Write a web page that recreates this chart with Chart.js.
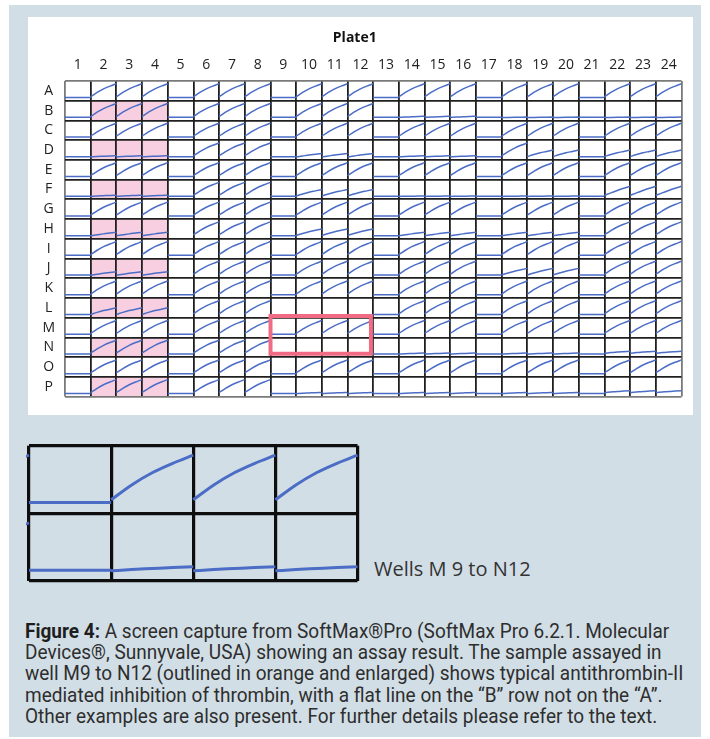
<!DOCTYPE html>
<html>
<head>
<meta charset="utf-8">
<script src="https://cdn.jsdelivr.net/npm/chart.js@4/dist/chart.umd.min.js"></script>
<style>
  html, body { margin: 0; padding: 0; background: #ffffff; }
  body { width: 710px; height: 739px; position: relative; overflow: hidden; font-family: "Open Sans", sans-serif; }
  #figure { position: absolute; left: 9px; top: 5px; width: 692px; height: 732px; background: #d2dee6; }
  #platePanel { position: absolute; left: 28px; top: 17px; width: 665px; height: 398px; background: #ffffff; }
  #plate { position: absolute; left: 0; top: 0; }
  #zoomWrap { position: absolute; left: 19px; top: 436px; width: 350px; height: 155px; }
  #zoomChart { filter: blur(0.4px); }
  #zoomLabel { position: absolute; left: 374px; top: 559px; font: 20px/20px "Open Sans", sans-serif; color: #333; white-space: nowrap; }
  #caption { position: absolute; left: 25px; top: 621px; font-family: Roboto, "Liberation Sans", sans-serif;
             font-size: 19.5px; line-height: 21.2px; color: #2e2e2e; white-space: nowrap; transform-origin: 0 0; }
  #caption b { color: #1e1e1e; font-weight: bold; }
</style>
</head>
<body>
<div id="figure"></div>
<div id="platePanel"><canvas id="plate" width="665" height="398"></canvas></div>
<div id="zoomWrap"><canvas id="zoomChart" width="350" height="155"></canvas></div>
<div id="zoomLabel">Wells M 9 to N12</div>
<div id="caption"><b>Figure 4:</b> A screen capture from SoftMax®Pro (SoftMax Pro 6.2.1. Molecular<br>Devices®, Sunnyvale, USA) showing an assay result. The sample assayed in<br>well M9 to N12 (outlined in orange and enlarged) shows typical antithrombin-II<br>mediated inhibition of thrombin, with a flat line on the “B” row not on the “A”.<br>Other examples are also present. For further details please refer to the text.</div>

<script>
// Plate geometry labels
const ROW_LABELS = ['A','B','C','D','E','F','G','H','I','J','K','L','M','N','O','P'];
const COL_LABELS = ['1','2','3','4','5','6','7','8','9','10','11','12','13','14','15','16','17','18','19','20','21','22','23','24'];

// Read times across the kinetic run (fraction of the run shown in each well)
const READ_TIMES = [0, 0.25, 0.5, 0.75, 1];

// Kinetic traces, signal as a fraction of the well height at each read
const TRACE_BLANK    = [0.16, 0.16, 0.16, 0.16, 0.16];
const TRACE_FLAT     = [0.15, 0.155, 0.16, 0.165, 0.17];
const TRACE_TRACE    = [0.15, 0.17, 0.185, 0.20, 0.21];
const TRACE_LOW      = [0.20, 0.23, 0.26, 0.28, 0.30];
const TRACE_SLIGHT   = [0.15, 0.20, 0.25, 0.29, 0.33];
const TRACE_PARTIAL  = [0.17, 0.27, 0.36, 0.43, 0.50];
const TRACE_STRONG   = [0.20, 0.33, 0.45, 0.56, 0.66];
const TRACE_FULL     = [0.20, 0.42, 0.60, 0.74, 0.86];

// One character per well, columns 1..24 (e / z = no trace drawn)
const PLATE_ROWS = [
  'fRRRfRRRfRRRfRRRfRRRfRRR', // A
  'fRRRfRRRfRRRfnnnfdddfddd', // B
  'fRRRfRRRfRRRfRRRfRRRfRRR', // C
  'fnnnfRRRfsssfnnnfRmmfmmm', // D
  'fRRRfRRRfRRRfRRRfRRRfRRR', // E
  'fnnnfRRRfmmmfdddfdddfMMM', // F
  'fRRRfRRRfRRRfRRRfRRRfRRR', // G
  'fssszRRRfmmmfsssfsssfRRR', // H
  'fRRRfRRRfRRRfRRRfRRRfRRR', // I
  'fssszRRRfRRRfRRRfmmmfRRR', // J
  'fRRRfRRRfRRRfRRRfRRRfRRR', // K
  'fmmmzRRReeeefRRRfRRRfRRR', // L
  'fRRRfRRRfRRRfRRRfRRRfRRR', // M
  'fRRRfRRRfnnnfnnnfnnnfuuu', // N
  'fRRRfRRRfRRRfRRRfRRRfRRR', // O
  'fRRRfRRRfnnnfnnnfnnnfuuu'  // P
];
const TRACE_BY_CODE = {
  f: TRACE_BLANK, d: TRACE_FLAT, n: TRACE_TRACE, u: TRACE_LOW,
  s: TRACE_SLIGHT, m: TRACE_PARTIAL, M: TRACE_STRONG, R: TRACE_FULL
};

// Shaded sample wells and the outlined block
const SHADED_ROWS = ['B','D','F','H','J','L','N','P'];
const SHADED_COLS = [2, 3, 4];
const OUTLINE_ROWS = ['M','N'];
const OUTLINE_COLS = [9, 12];

const TRACE_COLOR = '#4b6dc6';

function rowPoints(r, colFrom, colTo) {
  const pts = [];
  for (let c = colFrom; c <= colTo; c++) {
    const trace = TRACE_BY_CODE[PLATE_ROWS[r][c - 1]];
    if (!trace) continue;
    trace.forEach((v, i) => pts.push({ x: c - 1 + READ_TIMES[i], y: r + 1 - v }));
    pts.push({ x: c, y: null });
  }
  return pts;
}

function traceDataset(r, colFrom, colTo, width, clip) {
  const ds = {
    data: rowPoints(r, colFrom, colTo),
    borderColor: TRACE_COLOR,
    borderWidth: width,
    pointRadius: 0,
    fill: false,
    spanGaps: false,
    cubicInterpolationMode: 'monotone',
    order: 1
  };
  if (clip !== undefined) ds.clip = clip;
  return ds;
}

// Well shading painted under the grid
const shadedWells = {
  id: 'shadedWells',
  beforeDraw(chart) {
    const { ctx, scales: { x, y } } = chart;
    ctx.save();
    ctx.fillStyle = '#f7cfe0';
    SHADED_ROWS.forEach(row => {
      const ri = ROW_LABELS.indexOf(row);
      const y0 = y.getPixelForValue(ri), y1 = y.getPixelForValue(ri + 1);
      const x0 = x.getPixelForValue(SHADED_COLS[0] - 1);
      const x1 = x.getPixelForValue(SHADED_COLS[SHADED_COLS.length - 1]);
      ctx.fillRect(x0, y0, x1 - x0, y1 - y0);
    });
    ctx.restore();
  }
};

const isWhole = v => Math.abs(v - Math.round(v)) < 1e-9;
const labelFont = { family: 'Open Sans', size: 14 };

// Outline around the enlarged block of wells
const r0 = ROW_LABELS.indexOf(OUTLINE_ROWS[0]);
const r1 = ROW_LABELS.indexOf(OUTLINE_ROWS[1]) + 1;
const c0 = OUTLINE_COLS[0] - 1;
const c1 = OUTLINE_COLS[1];
const outlineDataset = {
  data: [
    { x: c0, y: r0 - 0.09 }, { x: c1 - 0.09, y: r0 - 0.09 },
    { x: c1 - 0.09, y: r1 - 0.17 }, { x: c0, y: r1 - 0.17 }, { x: c0, y: r0 - 0.09 }
  ],
  borderColor: '#f06b83',
  borderWidth: 4,
  borderCapStyle: 'square',
  borderJoinStyle: 'miter',
  pointRadius: 0,
  tension: 0,
  fill: false,
  clip: false,
  order: 0
};

const plateDatasets = [outlineDataset];
for (let r = 0; r < ROW_LABELS.length; r++) plateDatasets.push(traceDataset(r, 1, 24, 1.5));

const gridColor = ctx => (ctx.tick && (ctx.tick.value === 0 || ctx.tick.value === ctx.scale.max)) ? '#7a7a7a' : '#1f1f1f';
const gridWidth = ctx => (ctx.tick && isWhole(ctx.tick.value)) ? 1.8 : 0;

new Chart(document.getElementById('plate'), {
  type: 'line',
  data: { datasets: plateDatasets },
  options: {
    responsive: false,
    animation: false,
    devicePixelRatio: 1,
    layout: { padding: { left: 0, top: 0, right: 11.5, bottom: 17 } },
    plugins: {
      legend: { display: false },
      tooltip: { enabled: false },
      title: {
        display: true, text: 'Plate1', color: '#111',
        font: { family: 'Open Sans', size: 14, weight: 'bold' },
        padding: { top: 12.6, bottom: 0 }
      }
    },
    scales: {
      x: {
        type: 'linear', position: 'top', min: 0, max: 24,
        afterFit: s => { s.height = 34.6; },
        ticks: {
          stepSize: 0.5, autoSkip: false, maxRotation: 0, padding: 7.6,
          font: labelFont, color: '#222',
          callback: v => isWhole(v) ? '' : COL_LABELS[Math.floor(v)]
        },
        grid: { drawTicks: false, lineWidth: gridWidth, color: gridColor },
        border: { display: false }
      },
      y: {
        type: 'linear', position: 'left', min: 0, max: 16, reverse: true,
        afterFit: s => { s.width = 37; },
        ticks: {
          stepSize: 0.5, autoSkip: false, crossAlign: 'center', padding: 10,
          font: labelFont, color: '#222',
          callback: v => isWhole(v) ? '' : ROW_LABELS[Math.floor(v)]
        },
        grid: { drawTicks: false, lineWidth: gridWidth, color: gridColor },
        border: { display: false }
      }
    }
  },
  plugins: [shadedWells]
});

// Enlarged view of the outlined block (neighbouring wells peek in at the edges)
const zoomClip = { left: 3, top: 0, right: 3, bottom: 0 };
const zoomDatasets = [];
for (let r = r0; r < r1; r++) zoomDatasets.push(traceDataset(r, c0, c1 + 1, 3, zoomClip));

new Chart(document.getElementById('zoomChart'), {
  type: 'line',
  data: { datasets: zoomDatasets },
  options: {
    responsive: false,
    animation: false,
    devicePixelRatio: 1,
    layout: { padding: { left: 10, top: 9.7, right: 11.5, bottom: 10 } },
    plugins: { legend: { display: false }, tooltip: { enabled: false } },
    scales: {
      x: {
        type: 'linear', min: c0, max: c1,
        afterFit: s => { s.height = 0; },
        ticks: { display: false, stepSize: 1 },
        grid: { drawTicks: false, lineWidth: 3.2, color: '#0e0e0e' },
        border: { display: false }
      },
      y: {
        type: 'linear', min: r0, max: r1, reverse: true,
        afterFit: s => { s.width = 0; },
        ticks: { display: false, stepSize: 1 },
        grid: { drawTicks: false, lineWidth: 3.2, color: '#0e0e0e' },
        border: { display: false }
      }
    }
  }
});

// Condense the caption so its longest line fills the text column
(function fitCaption() {
  const cap = document.getElementById('caption');
  const natural = cap.scrollWidth;
  if (natural > 0) cap.style.transform = 'scaleX(' + (658 / natural).toFixed(4) + ')';
})();
</script>
</body>
</html>
